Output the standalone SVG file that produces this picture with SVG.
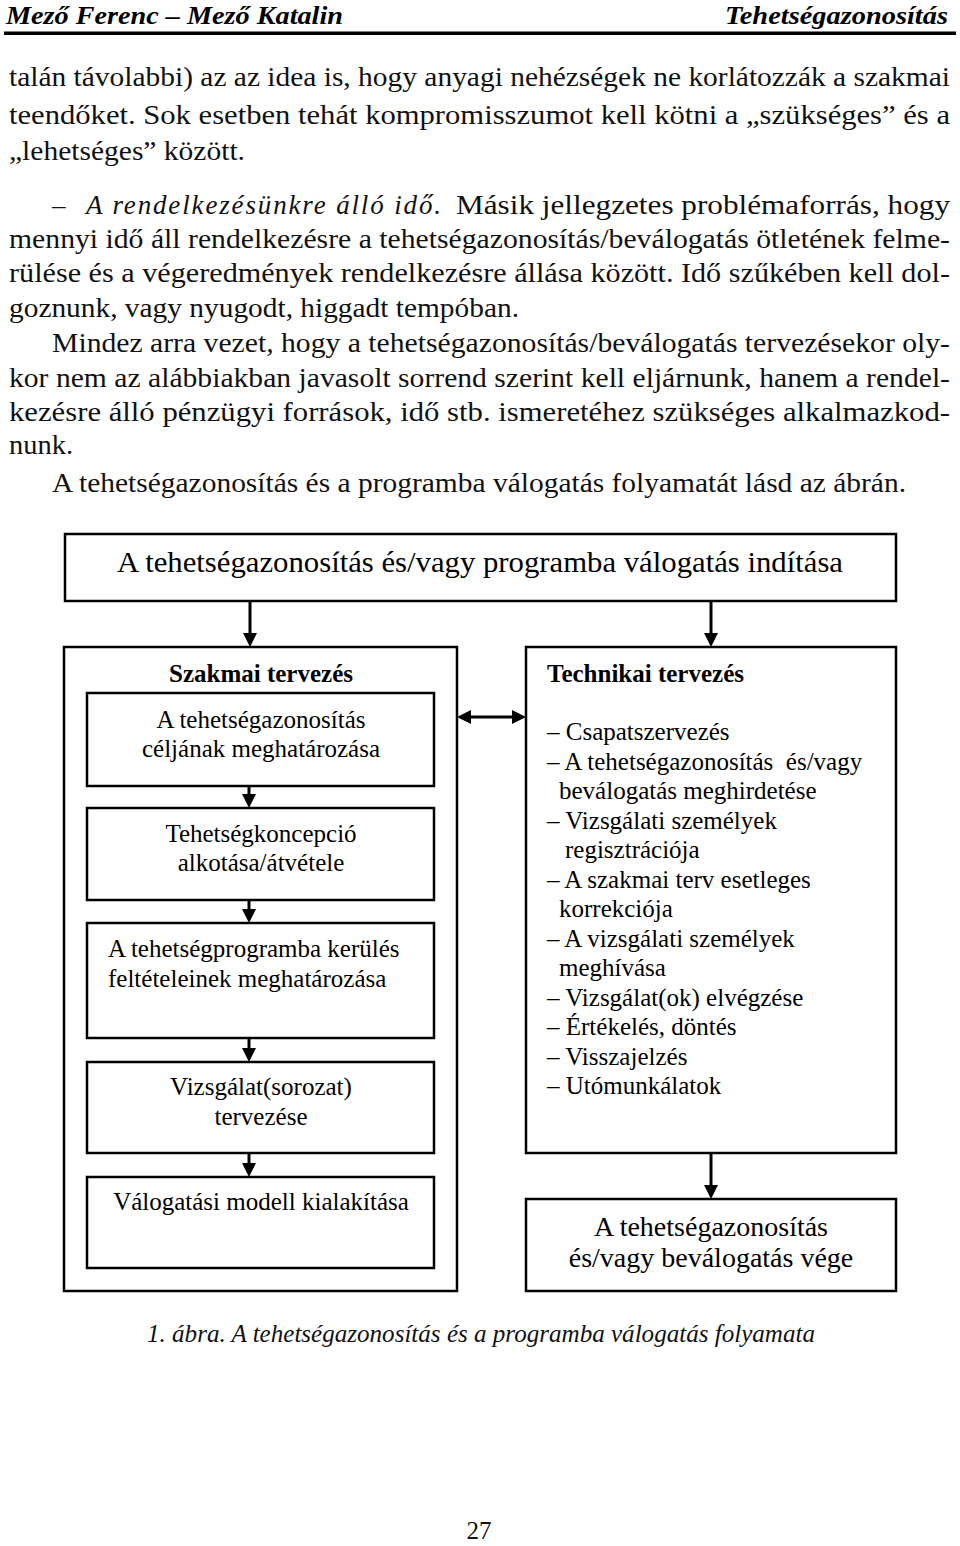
<svg xmlns="http://www.w3.org/2000/svg" width="960" height="1546" viewBox="0 0 960 1546">
<style>
.hd{font-family:"Liberation Serif",serif;font-weight:bold;font-style:italic;font-size:26px;fill:#000}
.bt{font-family:"Liberation Serif",serif;font-size:27px;fill:#111}
.bi{font-family:"Liberation Serif",serif;font-style:italic;font-size:27px;fill:#111}
.box{fill:#fff;stroke:#000;stroke-width:2.5}
.t25{font-family:"Liberation Serif",serif;font-size:25px;fill:#000}
.t25c{font-family:"Liberation Serif",serif;font-size:25px;fill:#000;text-anchor:middle}
.t28c{font-family:"Liberation Serif",serif;font-size:28px;fill:#000;text-anchor:middle}
.t30c{font-family:"Liberation Serif",serif;font-size:30px;fill:#000;text-anchor:middle}
.tb{font-family:"Liberation Serif",serif;font-size:25px;font-weight:bold;fill:#000}
.cn{fill:none;stroke:#000;stroke-width:3}
.cap{font-family:"Liberation Serif",serif;font-style:italic;font-size:26px;fill:#111}
.pg{font-family:"Liberation Serif",serif;font-size:25px;fill:#111;text-anchor:middle}
</style>
<defs>
<marker id="ah" viewBox="0 0 14 14" refX="3" refY="7" markerWidth="14" markerHeight="14" markerUnits="userSpaceOnUse" orient="auto-start-reverse">
<path d="M0,0 L14,7 L0,14 z" fill="#000"/>
</marker>
</defs>
<rect width="960" height="1546" fill="#fff"/>

<g id="header">
<text class="hd" x="6" y="24" textLength="337" lengthAdjust="spacingAndGlyphs">Mező Ferenc – Mező Katalin</text>
<text class="hd" x="725" y="24" textLength="223" lengthAdjust="spacingAndGlyphs">Tehetségazonosítás</text>
<rect x="4" y="31.5" width="952" height="3.5" fill="#000"/>
</g>

<g id="body-text">
<text class="bt" x="9" y="86" textLength="941" lengthAdjust="spacingAndGlyphs">talán távolabbi) az az idea is, hogy anyagi nehézségek ne korlátozzák a szakmai</text>
<text class="bt" x="9" y="124" textLength="941" lengthAdjust="spacingAndGlyphs">teendőket. Sok esetben tehát kompromisszumot kell kötni a „szükséges” és a</text>
<text class="bt" x="9" y="160" textLength="236" lengthAdjust="spacingAndGlyphs">„lehetséges” között.</text>
<text class="bt" x="52" y="214">–</text>
<text class="bi" x="86" y="214" textLength="355" lengthAdjust="spacing">A rendelkezésünkre álló idő.</text>
<text class="bt" x="456" y="214" textLength="494" lengthAdjust="spacingAndGlyphs">Másik jellegzetes problémaforrás, hogy</text>
<text class="bt" x="9" y="248" textLength="941" lengthAdjust="spacingAndGlyphs">mennyi idő áll rendelkezésre a tehetségazonosítás/beválogatás ötletének felme-</text>
<text class="bt" x="9" y="282" textLength="941" lengthAdjust="spacingAndGlyphs">rülése és a végeredmények rendelkezésre állása között. Idő szűkében kell dol-</text>
<text class="bt" x="9" y="317" textLength="510" lengthAdjust="spacingAndGlyphs">goznunk, vagy nyugodt, higgadt tempóban.</text>
<text class="bt" x="52" y="352" textLength="898" lengthAdjust="spacingAndGlyphs">Mindez arra vezet, hogy a tehetségazonosítás/beválogatás tervezésekor oly-</text>
<text class="bt" x="9" y="387" textLength="941" lengthAdjust="spacingAndGlyphs">kor nem az alábbiakban javasolt sorrend szerint kell eljárnunk, hanem a rendel-</text>
<text class="bt" x="9" y="421" textLength="941" lengthAdjust="spacingAndGlyphs">kezésre álló pénzügyi források, idő stb. ismeretéhez szükséges alkalmazkod-</text>
<text class="bt" x="9" y="454" textLength="64" lengthAdjust="spacingAndGlyphs">nunk.</text>
<text class="bt" x="52" y="492" textLength="854" lengthAdjust="spacingAndGlyphs">A tehetségazonosítás és a programba válogatás folyamatát lásd az ábrán.</text>
</g>

<g id="node-start">
<rect class="box" x="65" y="534" width="831" height="67"/>
<text class="t30c" x="480" y="572" textLength="726" lengthAdjust="spacingAndGlyphs">A tehetségazonosítás és/vagy programba válogatás indítása</text>
</g>

<g id="node-szakmai">
<rect class="box" x="64" y="647" width="393" height="644"/>
<text class="tb" x="261" y="682" text-anchor="middle">Szakmai tervezés</text>
</g>

<g id="node-cel">
<rect class="box" x="87" y="693" width="347" height="93"/>
<text class="t25c" x="261" y="728">A tehetségazonosítás</text>
<text class="t25c" x="261" y="757">céljának meghatározása</text>
</g>

<g id="node-koncepcio">
<rect class="box" x="87" y="808" width="347" height="92"/>
<text class="t25c" x="261" y="842">Tehetségkoncepció</text>
<text class="t25c" x="261" y="871">alkotása/átvétele</text>
</g>

<g id="node-feltetel">
<rect class="box" x="87" y="923" width="347" height="115"/>
<text class="t25" x="108" y="957">A tehetségprogramba kerülés</text>
<text class="t25" x="108" y="987">feltételeinek meghatározása</text>
</g>

<g id="node-vizsgalat">
<rect class="box" x="87" y="1062" width="347" height="91"/>
<text class="t25c" x="261" y="1095">Vizsgálat(sorozat)</text>
<text class="t25c" x="261" y="1125">tervezése</text>
</g>

<g id="node-modell">
<rect class="box" x="87" y="1177" width="347" height="91"/>
<text class="t25c" x="261" y="1210">Válogatási modell kialakítása</text>
</g>

<g id="node-technikai">
<rect class="box" x="526" y="647" width="370" height="506"/>
<text class="tb" x="547" y="682">Technikai tervezés</text>
<text class="t25" x="547" y="740">– Csapatszervezés</text>
<text class="t25" x="547" y="769.5">– A tehetségazonosítás&#160; és/vagy</text>
<text class="t25" x="559" y="799">beválogatás meghirdetése</text>
<text class="t25" x="547" y="828.5">– Vizsgálati személyek</text>
<text class="t25" x="565" y="858">regisztrációja</text>
<text class="t25" x="547" y="887.5">– A szakmai terv esetleges</text>
<text class="t25" x="559" y="917">korrekciója</text>
<text class="t25" x="547" y="946.5">– A vizsgálati személyek</text>
<text class="t25" x="559" y="976">meghívása</text>
<text class="t25" x="547" y="1005.5">– Vizsgálat(ok) elvégzése</text>
<text class="t25" x="547" y="1035">– Értékelés, döntés</text>
<text class="t25" x="547" y="1064.5">– Visszajelzés</text>
<text class="t25" x="547" y="1094">– Utómunkálatok</text>
</g>

<g id="node-vege">
<rect class="box" x="526" y="1199" width="370" height="92"/>
<text class="t28c" x="711" y="1236">A tehetségazonosítás</text>
<text class="t28c" x="711" y="1267">és/vagy beválogatás vége</text>
</g>

<g id="connectors">
<line class="cn" x1="250" y1="601" x2="250" y2="636" marker-end="url(#ah)"/>
<line class="cn" x1="711" y1="601" x2="711" y2="636" marker-end="url(#ah)"/>
<line class="cn" x1="468" y1="717" x2="515" y2="717" marker-start="url(#ah)" marker-end="url(#ah)"/>
<line class="cn" x1="249" y1="786" x2="249" y2="797" marker-end="url(#ah)"/>
<line class="cn" x1="249" y1="900" x2="249" y2="912" marker-end="url(#ah)"/>
<line class="cn" x1="249" y1="1038" x2="249" y2="1051" marker-end="url(#ah)"/>
<line class="cn" x1="249" y1="1153" x2="249" y2="1166" marker-end="url(#ah)"/>
<line class="cn" x1="711" y1="1153" x2="711" y2="1188" marker-end="url(#ah)"/>
</g>

<g id="caption">
<text class="cap" x="147" y="1342" textLength="668" lengthAdjust="spacingAndGlyphs">1. ábra. A tehetségazonosítás és a programba válogatás folyamata</text>
</g>

<g id="page-number">
<text class="pg" x="479" y="1539">27</text>
</g>
</svg>
